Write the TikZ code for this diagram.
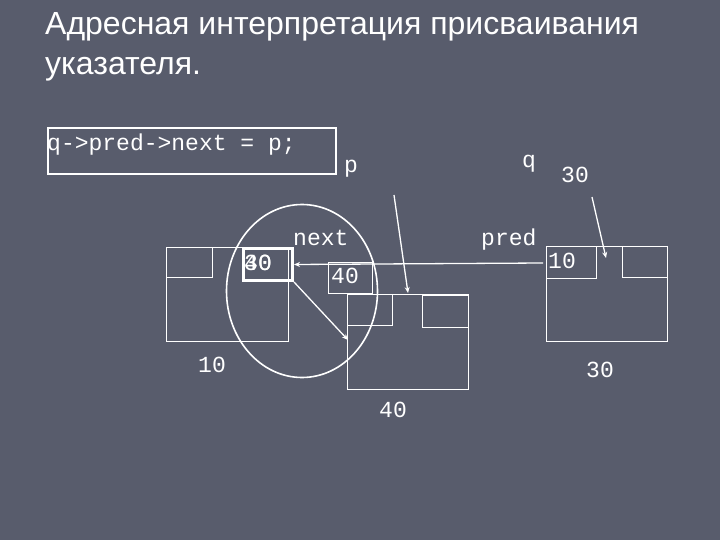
\documentclass[tikz,border=0pt]{standalone}
\usepackage{fontspec}
\setmainfont{Liberation Sans}
\newfontfamily\monof{Liberation Mono}
\usetikzlibrary{arrows.meta,shapes.geometric}
\definecolor{bg}{RGB}{88,92,108}
\begin{document}
\begin{tikzpicture}[x=1pt,y=-1pt,
  box/.style={draw=white, line width=1.2pt, anchor=north west, inner sep=0pt},
  mono/.style={font=\monof\fontsize{23}{23}\selectfont, text=white, inner sep=0pt, anchor=base west},
  arr/.style={draw=white, line width=1.3pt, -{Stealth[length=6pt,width=5pt]}}]
\fill[bg] (0,0) rectangle (720,540);
\useasboundingbox (0,0) rectangle (720,540);
% title
\node[anchor=base west, align=left, text=white, inner sep=0pt,
      font=\fontsize{32}{40}\selectfont] (title) at (45,75)
  {Адресная интерпретация присваивания\\указателя.};
% code box
\node[box, line width=1.6pt, minimum width=288pt, minimum height=46pt] (code) at (47,127) {};
\node[mono] (codetext) at (47,151) {q->pred->next = p;};
% labels p, q, 30
\node[mono] (lp) at (344,173) {p};
\node[mono] (lq) at (522,168) {q};
\node[mono] (l30top) at (561,183) {30};
% left node
\node[box, minimum width=122pt, minimum height=94pt] (L) at (166,247) {};
\node[box, minimum width=46pt, minimum height=30pt] (Lp) at (166,247) {};
\node[box, line width=3pt, minimum width=49pt, minimum height=32pt] (Ln) at (242,247) {};
\node[mono] (old30) at (244,270) {30};
\node[mono] (new40) at (244,270) {40};
% middle node
\node[box, minimum width=121pt, minimum height=95pt] (M) at (347,294) {};
\node[box, minimum width=45pt, minimum height=31pt] (Mp) at (347,294) {};
\node[box, minimum width=46pt, minimum height=32pt] (Mn) at (422,295) {};
% right node
\node[box, minimum width=121pt, minimum height=95pt] (R) at (546,246) {};
\node[box, minimum width=50pt, minimum height=32pt] (Rp) at (546,246) {};
\node[box, minimum width=45pt, minimum height=31pt] (Rn) at (622,246) {};
\node[mono] (r10) at (548,268) {10};
% 40 frame
\node[box, line width=1pt, minimum width=44pt, minimum height=31pt] (B40) at (328,262) {};
\node[mono] (b40t) at (331,283) {40};
% field labels
\node[mono] (lnext) at (293,245) {next};
\node[mono] (lpred) at (481,245) {pred};
% node address labels
\node[mono] (a10) at (198,372) {10};
\node[mono] (a30) at (586,377) {30};
\node[mono] (a40) at (379,417) {40};
% ellipse
\node[draw=white, line width=1.6pt, ellipse, minimum width=151pt, minimum height=173pt, inner sep=0pt] (circ) at (302,291) {};
% arrows
\coordinate (predstart) at (543,263);
\draw[arr] (predstart) -- (Ln.east);
\coordinate (diagend) at (348,340);
\draw[arr] (Ln.south east) -- (diagend);
\coordinate (pstart) at (394,195);
\coordinate (pend) at (408,293);
\draw[arr] (pstart) -- (pend);
\coordinate (qstart) at (592,197);
\coordinate (qend) at (606,258);
\draw[arr] (qstart) -- (qend);
\end{tikzpicture}
\end{document}
